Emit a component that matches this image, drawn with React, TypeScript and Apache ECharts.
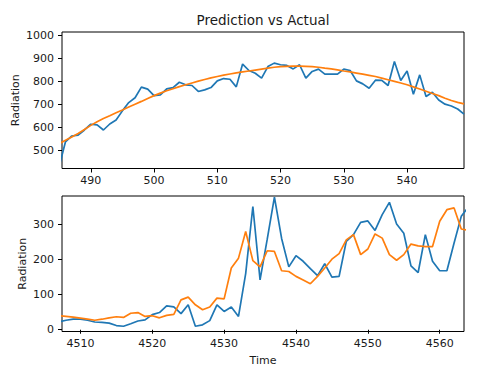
import React, { useEffect, useRef } from "react";
import * as echarts from "echarts";

// Top panel (time 485..549)
const topTimeStart = 485;
const topActual = [
  432, 539, 564, 568, 590, 615, 612, 590, 616, 633, 673, 709, 730, 776, 767, 739, 742, 768, 774, 797,
  786, 783, 757, 764, 774, 803, 813, 810, 777, 876, 848, 836, 815, 865, 880, 873, 870, 855, 873, 815,
  844, 854, 832, 832, 832, 854, 848, 803, 790, 771, 806, 805, 783, 887, 805, 846, 745, 829, 735, 754,
  720, 702, 694, 681, 659,
];
const topPredicted = [
  530, 545, 560, 575, 592, 610, 626, 640, 652, 665, 677, 690, 702, 714, 727, 739, 750, 760, 769, 778,
  786, 794, 802, 809, 816, 822, 828, 833, 838, 842, 846, 850, 854, 858, 862, 865, 866, 867, 867, 866,
  865, 862, 858, 855, 851, 846, 842, 837, 832, 827, 822, 815, 808, 801, 794, 786, 777, 768, 758, 748,
  739, 728, 718, 710, 703,
];

// Bottom panel (time 4507..4564)
const bottomTimeStart = 4507;
const bottomActual = [
  22, 27, 30, 30, 27, 22, 21, 19, 12, 10, 17, 25, 28, 43, 49, 68, 65, 46, 71, 10,
  14, 26, 71, 52, 65, 38, 160, 351, 142, 258, 378, 260, 179, 211, 195, 174, 154, 188, 150, 152,
  252, 271, 306, 310, 283, 328, 363, 301, 275, 182, 163, 271, 195, 168, 168, 247, 323, 350,
];
const bottomPredicted = [
  40, 38, 36, 33, 30, 27, 30, 34, 37, 35, 47, 49, 38, 40, 34, 41, 44, 85, 93, 71,
  57, 65, 90, 88, 176, 204, 280, 197, 179, 225, 223, 168, 166, 152, 142, 131, 152, 176, 201, 217,
  256, 271, 214, 230, 273, 261, 214, 198, 214, 244, 239, 237, 237, 309, 342, 347, 287, 283,
];

const topXTicks = [490, 500, 510, 520, 530, 540];
const topYTicks = [500, 600, 700, 800, 900, 1000];
const bottomXTicks = [4510, 4520, 4530, 4540, 4550, 4560];
const bottomYTicks = [0, 100, 200, 300];

const BLUE = "#1f77b4";
const ORANGE = "#ff7f0e";
const FONT = "DejaVu Sans";
const TXT = "#1a1a1a";

function pairs(start: number, vals: number[]) {
  return vals.map((v, i) => [start + i, v]);
}

const plain = (v: number) => String(v);

function xAxis(gridIndex: number, min: number, max: number, ticks: number[], name?: string) {
  return {
    type: "value",
    gridIndex,
    min,
    max,
    name: name || "",
    nameLocation: "middle",
    nameGap: 23,
    nameMoveOverlap: false,
    nameTextStyle: { fontFamily: FONT, fontSize: 11, color: TXT },
    axisLine: { show: false },
    axisTick: { show: true, length: 4, inside: false, lineStyle: { color: "#000", width: 1 }, customValues: ticks },
    axisLabel: { show: true, margin: 6, fontFamily: FONT, fontSize: 11, color: TXT, customValues: ticks, formatter: plain },
    splitLine: { show: false },
  };
}

function yAxis(gridIndex: number, min: number, max: number, ticks: number[], nameGap: number) {
  return {
    type: "value",
    gridIndex,
    min,
    max,
    name: "Radiation",
    nameLocation: "middle",
    nameGap,
    nameMoveOverlap: false,
    nameTextStyle: { fontFamily: FONT, fontSize: 11, color: TXT },
    axisLine: { show: false },
    axisTick: { show: true, length: 4, inside: false, lineStyle: { color: "#000", width: 1 }, customValues: ticks },
    axisLabel: { show: true, margin: 8, fontFamily: FONT, fontSize: 11, color: TXT, customValues: ticks, formatter: plain },
    splitLine: { show: false },
  };
}

function line(name: string, xi: number, data: number[][], color: string) {
  return {
    name,
    type: "line",
    xAxisIndex: xi,
    yAxisIndex: xi,
    data,
    showSymbol: false,
    symbol: "none",
    clip: true,
    lineStyle: { color, width: 1.7 },
    itemStyle: { color },
  };
}

export default function App() {
  const ref = useRef<HTMLDivElement>(null);
  useEffect(() => {
    if (!ref.current) return;
    const chart = echarts.init(ref.current, undefined, { renderer: "svg" });
    chart.setOption({
      animation: false,
      backgroundColor: "#fff",
      textStyle: { fontFamily: FONT },
      graphic: [
        {
          type: "text",
          x: 263,
          y: 19.5,
          style: {
            text: "Prediction vs Actual",
            fontFamily: FONT,
            fontSize: 13.5,
            fill: TXT,
            textAlign: "center",
            textVerticalAlign: "middle",
          },
        },
      ],
      grid: [
        { left: 62, top: 32, width: 402, height: 136.5, show: true, borderColor: "#000", borderWidth: 1, backgroundColor: "transparent", containLabel: false, outerBoundsMode: "none" },
        { left: 62, top: 196, width: 402, height: 135.5, show: true, borderColor: "#000", borderWidth: 1, backgroundColor: "transparent", containLabel: false, outerBoundsMode: "none" },
      ],
      xAxis: [
        xAxis(0, 485.45, 549, topXTicks),
        xAxis(1, 4507.44, 4563.38, bottomXTicks, "Time"),
      ],
      yAxis: [
        yAxis(0, 423, 1015, topYTicks, 41),
        yAxis(1, -5, 381, bottomYTicks, 34),
      ],
      series: [
        line("Actual", 0, pairs(topTimeStart, topActual), BLUE),
        line("Prediction", 0, pairs(topTimeStart, topPredicted), ORANGE),
        line("Actual", 1, pairs(bottomTimeStart, bottomActual), BLUE),
        line("Prediction", 1, pairs(bottomTimeStart, bottomPredicted), ORANGE),
      ],
    });
    return () => chart.dispose();
  }, []);
  return (
    <div
      ref={ref}
      style={{ position: "fixed", left: 0, top: 0, width: 502, height: 380, background: "#fff" }}
    />
  );
}
